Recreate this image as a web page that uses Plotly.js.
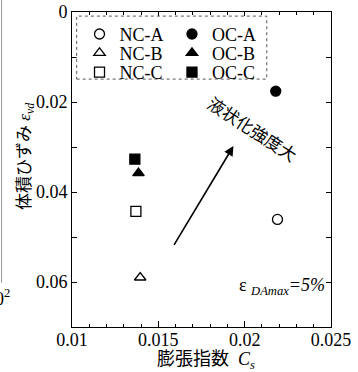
<!DOCTYPE html>
<html>
<head>
<meta charset="utf-8">
<script src="https://cdn.plot.ly/plotly-3.0.1.min.js"></script>
<style>html,body{margin:0;padding:0;background:#fff;}#chart{width:358px;height:372px;}</style>
</head>
<body>
<div id="chart"></div>
<script>
// Series (x = swelling index Cs, y = volumetric strain eps_vd)
const seriesNames = ["NC-A", "OC-A", "NC-B", "OC-B", "NC-C", "OC-C"];
const seriesX = [[0.0219], [0.0218], [0.01395], [0.01385], [0.0137], [0.01364]];
const seriesY = [[0.0461], [0.0176], [0.0590], [0.0358], [0.0443], [0.0327]];
const seriesSymbols = ["circle-open", "circle", "triangle-up-open", "triangle-up", "square-open", "square"];

const xTickVals = [0.01, 0.015, 0.02, 0.025];
const xTickText = ["0.01", "0.015", "0.02", "0.025"];
const yTickVals = [0, 0.02, 0.04, 0.06];
const yTickText = ["0", "0.02", "0.04", "0.06"];

// Arrow (tail -> head) in data units
const arrowTail = [0.01586, 0.0521];
const arrowHead = [0.01935, 0.0298];
const arrowLabel = "液状化強度大";
const arrowLabelPos = [0.02049, 0.0258];

const serif = "Liberation Serif, Times New Roman, serif";
const cjk = "Noto Sans CJK JP, sans-serif";

// legend grid: two columns (NC / OC), three rows (A / B / C)
const legendColX = [0.029, 0.386];
const legendRowY = [0.988, 0.928, 0.867];

const traces = seriesNames.map((n, i) => ({
  type: "scatter", mode: "markers", name: n,
  legend: i === 0 ? "legend" : "legend" + (i + 1),
  x: seriesX[i], y: seriesY[i],
  marker: {symbol: seriesSymbols[i], size: 10, color: "#000", line: {color: "#000", width: 1.3}}
}));

const layout = {
  width: 358, height: 372,
  margin: {l: 72, r: 27, t: 12, b: 45},
  paper_bgcolor: "#fff", plot_bgcolor: "#fff",
  showlegend: true,
  xaxis: {
    range: [0.01, 0.025], tickvals: xTickVals, ticktext: xTickText,
    ticks: "inside", ticklen: 6, tickwidth: 1, tickcolor: "#000",
    minor: {dtick: 0.001, ticks: "inside", ticklen: 3, tickcolor: "#000", showgrid: false},
    showline: true, linecolor: "#000", linewidth: 1, mirror: "allticks",
    showgrid: false, zeroline: false, ticklabelstandoff: -4,
    tickfont: {family: serif, size: 18, color: "#000"}
  },
  yaxis: {
    range: [0.07, 0], tickvals: yTickVals, ticktext: yTickText,
    ticks: "inside", ticklen: 5, tickwidth: 1, tickcolor: "#000",
    minor: {dtick: 0.01, ticks: "inside", ticklen: 5, tickcolor: "#000", showgrid: false},
    showline: true, linecolor: "#000", linewidth: 1, mirror: "allticks",
    showgrid: false, zeroline: false,
    tickfont: {family: serif, size: 18, color: "#000"}
  },
  shapes: [
    {type: "rect", xref: "paper", yref: "paper", x0: 0.018, x1: 0.752, y0: 0.787, y1: 0.987,
     line: {color: "#555", width: 1, dash: "dot"}, fillcolor: "#fff", layer: "above"},
    {type: "line", xref: "paper", yref: "paper", x0: -0.272, x1: -0.272, y0: 1.04, y1: 0.14,
     line: {color: "#999", width: 1}}
  ],
  annotations: [
    {x: arrowHead[0], y: arrowHead[1], ax: arrowTail[0], ay: arrowTail[1],
     xref: "x", yref: "y", axref: "x", ayref: "y",
     showarrow: true, arrowhead: 2, arrowsize: 1.2, arrowwidth: 1.6, arrowcolor: "#000", text: ""},
    {x: arrowLabelPos[0], y: arrowLabelPos[1], xref: "x", yref: "y", text: arrowLabel,
     showarrow: false, textangle: 33, font: {family: cjk, size: 17, color: "#000"}},
    {x: 0.985, y: 0.13, xref: "paper", yref: "paper", xanchor: "right", yanchor: "middle",
     text: "ε <sub><i>DAmax</i></sub><i>=5%</i>", showarrow: false,
     font: {family: serif, size: 18, color: "#000"}},
    {x: -0.185, y: 0.54, xref: "paper", yref: "paper", xanchor: "center", yanchor: "middle",
     textangle: -90, showarrow: false,
     text: "<span style=\"font-family:Noto Sans CJK JP\">体積ひずみ</span> <i>ε</i><sub><i>vd</i></sub>",
     font: {family: serif, size: 17, color: "#000"}},
    {x: 0.517, y: -0.098, xref: "paper", yref: "paper", xanchor: "center", yanchor: "middle",
     showarrow: false,
     text: "<span style=\"font-family:Noto Sans CJK JP\">膨張指数</span>  <i>C<sub>s</sub></i>",
     font: {family: serif, size: 18, color: "#000"}},
    {x: -0.232, y: 0.095, xref: "paper", yref: "paper", xanchor: "right", yanchor: "middle",
     showarrow: false, text: "0<sup>2</sup>", font: {family: serif, size: 18, color: "#000"}}
  ]
};

seriesNames.forEach((n, i) => {
  const key = i === 0 ? "legend" : "legend" + (i + 1);
  layout[key] = {
    x: legendColX[i % 2], y: legendRowY[Math.floor(i / 2)], xanchor: "left", yanchor: "top",
    font: {family: serif, size: 18, color: "#000"},
    bgcolor: "rgba(0,0,0,0)", borderwidth: 0
  };
});

Plotly.newPlot("chart", traces, layout, {displayModeBar: false, staticPlot: true});
</script>
</body>
</html>
